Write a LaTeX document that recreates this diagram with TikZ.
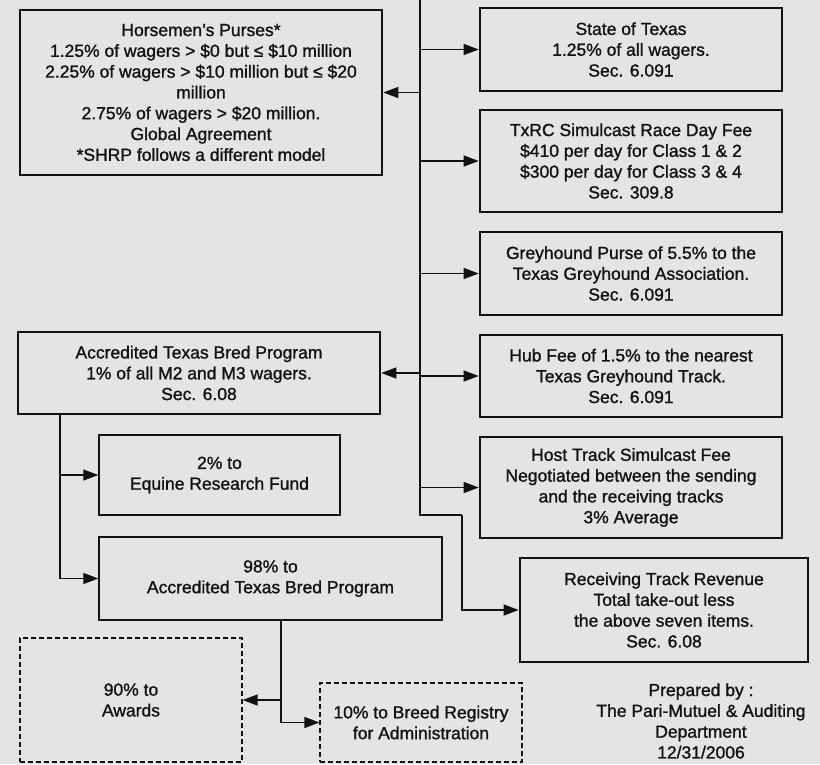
\documentclass[tikz,border=0pt]{standalone}
\usepackage{fontspec}
\setmainfont{Liberation Sans}[BoldFont=Liberation Sans, BoldFeatures={FakeBold=1.2}]
\usetikzlibrary{arrows.meta}
\definecolor{bg}{RGB}{228,228,226}
\definecolor{ink}{RGB}{18,18,18}
\tikzset{
  txt/.style={font=\fontsize{17.5}{20.8}\selectfont\bfseries, text=ink, align=center, inner sep=0pt},
  thickbox/.style={txt, draw=ink, line width=2.6pt, rectangle},
  thinbox/.style={txt, draw=ink, line width=1.4pt, rectangle},
  dashbox/.style={txt, draw=ink, line width=1.2pt, dash pattern=on 5pt off 3pt, rectangle},
  conn/.style={draw=ink, line width=1.3pt},
  arr/.style={conn, -{Triangle[length=15pt,width=11pt]}}
}
\begin{document}
\begin{tikzpicture}[x=1pt,y=-1pt]
\fill[bg] (0,0) rectangle (820,764);
\useasboundingbox (0,0) rectangle (820,764);

\node[thickbox, minimum width=362pt, minimum height=165pt] (horse) at (201,92.5)
  {Horsemen's Purses*\\1.25\% of wagers > \$0 but ≤ \$10 million\\2.25\% of wagers > \$10 million but ≤ \$20\\million\\2.75\% of wagers > \$20 million.\\Global Agreement\\*SHRP follows a different model};

\node[thickbox, minimum width=302pt, minimum height=83pt] (state) at (631,49.5)
  {State of Texas\\1.25\% of all wagers.\\Sec. 6.091};
\node[thickbox, minimum width=302pt, minimum height=102pt] (txrc) at (631,161)
  {TxRC Simulcast Race Day Fee\\\$410 per day for Class 1 \& 2\\\$300 per day for Class 3 \& 4\\Sec. 309.8};
\node[thickbox, minimum width=302pt, minimum height=83pt] (grey) at (631,273.5)
  {Greyhound Purse of 5.5\% to the\\Texas Greyhound Association.\\Sec. 6.091};
\node[thickbox, minimum width=302pt, minimum height=82pt] (hub) at (631,376)
  {Hub Fee of 1.5\% to the nearest\\Texas Greyhound Track.\\Sec. 6.091};
\node[thickbox, minimum width=302pt, minimum height=101pt] (host) at (631,487.5)
  {Host Track Simulcast Fee\\Negotiated between the sending\\and the receiving tracks\\3\% Average};
\node[thickbox, minimum width=288pt, minimum height=104pt] (recv) at (664,610)
  {Receiving Track Revenue\\Total take-out less\\the above seven items.\\Sec. 6.08};

\node[thickbox, minimum width=362pt, minimum height=82pt] (atb) at (199,373)
  {Accredited Texas Bred Program\\1\% of all M2 and M3 wagers.\\Sec. 6.08};
\node[thinbox, minimum width=241pt, minimum height=80pt] (equine) at (219.5,475)
  {2\% to\\Equine Research Fund};
\node[thinbox, minimum width=343pt, minimum height=83pt] (atbp) at (270.5,578.5)
  {98\% to\\Accredited Texas Bred Program};
\node[dashbox, minimum width=222pt, minimum height=124pt] (awards) at (131,700)
  {90\% to\\Awards};
\node[dashbox, minimum width=202pt, minimum height=79pt] (breed) at (421,722.5)
  {10\% to Breed Registry\\for Administration};
\node[txt] (prep) at (701,721)
  {Prepared by :\\The Pari-Mutuel \& Auditing\\Department\\12/31/2006};

% main trunk
\coordinate (top) at (420,0);
\coordinate (bend1) at (420,515);
\coordinate (bend2) at (462,515);
\draw[conn] (top) -- (bend1) -- (bend2);
\draw[arr] (bend2) |- (recv.west);
\draw[arr] (top |- state.west) -- (state.west);
\draw[arr] (top |- txrc.west) -- (txrc.west);
\draw[arr] (top |- grey.west) -- (grey.west);
\draw[arr] (top |- hub.west) -- (hub.west);
\draw[arr] (top |- host.west) -- (host.west);
\draw[arr] (top |- horse.east) -- (horse.east);
\draw[arr] (top |- atb.east) -- (atb.east);

% ATB split
\coordinate (a1) at (60,414);
\draw[arr] (a1) |- (equine.west);
\draw[arr] (a1) |- (atbp.west);

% 98% split
\coordinate (b1) at (281,620);
\draw[arr] (b1) |- (breed.west);
\draw[arr] (b1 |- awards.east) -- (awards.east);
\end{tikzpicture}
\end{document}
